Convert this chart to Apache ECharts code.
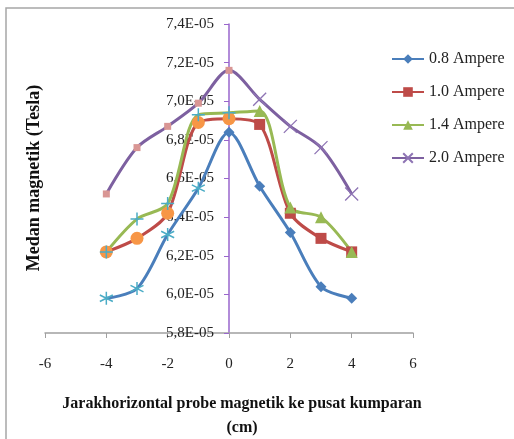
<!DOCTYPE html>
<html>
<head>
<meta charset="utf-8">
<script src="https://cdn.jsdelivr.net/npm/echarts@6/dist/echarts.min.js"></script>
<style>
  html, body { margin: 0; padding: 0; background: #fff; }
  #chart { width: 514px; height: 439px; }
</style>
</head>
<body>
<div id="chart"></div>
<script>
// Probe position relative to coil centre (cm)
const positions = [-4, -3, -2, -1, 0, 1, 2, 3, 4];
// Field strength in units of 1e-6 T
const field08A = [59.8, 60.3, 63.1, 65.5, 68.4, 65.6, 63.2, 60.4, 59.8];
const field10A = [62.2, 62.9, 64.2, 68.9, 69.1, 68.8, 64.2, 62.9, 62.2];
const field14A = [62.2, 63.9, 64.7, 69.3, 69.4, 69.5, 64.5, 64.0, 62.2];
const field20A = [65.2, 67.6, 68.7, 69.9, 71.6, 70.1, 68.7, 67.6, 65.2];
const seriesNames = ['0.8 Ampere', '1.0 Ampere', '1.4 Ampere', '2.0 Ampere'];
const xTicks = [-6, 6, 2];      // min, max, step
const yTicks = [58, 74, 2];     // min, max, step (1e-6 T)

const SERIF = '"Liberation Serif", "Times New Roman", serif';
const ASTERISK = 'path://M5,0 L5,10 M0.7,2.5 L9.3,7.5 M9.3,2.5 L0.7,7.5';
const PLUS = 'path://M5,0 L5,10 M0,5 L10,5';
const CROSS = 'path://M0,0 L10,10 M10,0 L0,10';

const GRID = { left: 45, right: 101, top: 24, bottom: 106 };
const plotWidth = 514 - GRID.left - GRID.right;
// the value axis crosses the horizontal axis at x = 0
const yAxisShift = -plotWidth * (0 - xTicks[0]) / (xTicks[1] - xTicks[0]);

function points(values, altUntil, alt) {
  return values.map((v, i) => {
    const item = { value: [positions[i], v] };
    if (positions[i] <= altUntil) Object.assign(item, alt);
    return item;
  });
}

const chart = echarts.init(document.getElementById('chart'));
chart.setOption({
  animation: false,
  grid: Object.assign({ containLabel: false, outerBoundsMode: 'none' }, GRID),
  xAxis: {
    type: 'value', min: xTicks[0], max: xTicks[1], interval: xTicks[2],
    splitLine: { show: false },
    axisLine: { onZero: false, lineStyle: { color: '#A0A0A0', width: 1.5 } },
    axisTick: { show: true, length: 5, lineStyle: { color: '#A0A0A0' } },
    axisLabel: { color: '#222', fontFamily: SERIF, fontSize: 15, margin: 24 }
  },
  yAxis: {
    type: 'value', min: yTicks[0], max: yTicks[1], interval: yTicks[2],
    position: 'left', offset: yAxisShift,
    splitLine: { show: false },
    axisLine: { onZero: false, lineStyle: { color: '#9966CC', width: 1.5 } },
    axisTick: { show: true, length: 5, lineStyle: { color: '#9966CC' } },
    axisLabel: {
      color: '#222', fontFamily: SERIF, fontSize: 15, margin: 15,
      formatter: v => (v / 10).toFixed(1).replace('.', ',') + 'E-05'
    }
  },
  legend: {
    orient: 'vertical', left: 386, top: 46, itemGap: 17,
    itemWidth: 32, itemHeight: 12,
    textStyle: { fontFamily: SERIF, fontSize: 16, color: '#222' },
    data: seriesNames
  },
  series: [
    {
      name: seriesNames[0], type: 'line', smooth: 0.3,
      symbol: 'diamond', symbolSize: 11,
      lineStyle: { color: '#4A7EBB', width: 3 },
      itemStyle: { color: '#4A7EBB' },
      data: points(field08A, -1, {
        symbol: ASTERISK, symbolSize: 13,
        itemStyle: { color: 'rgba(0,0,0,0)', borderColor: '#4BACC6', borderWidth: 1.5 }
      })
    },
    {
      name: seriesNames[1], type: 'line', smooth: 0.3,
      symbol: 'rect', symbolSize: 11,
      lineStyle: { color: '#BE4B48', width: 3 },
      itemStyle: { color: '#BE4B48' },
      data: points(field10A, 0, {
        symbol: 'circle', symbolSize: 13,
        itemStyle: { color: '#F79646' }
      })
    },
    {
      name: seriesNames[2], type: 'line', smooth: 0.3,
      symbol: 'triangle', symbolSize: 12,
      lineStyle: { color: '#98B954', width: 3 },
      itemStyle: { color: '#98B954' },
      data: points(field14A, 0, {
        symbol: PLUS, symbolSize: 13,
        itemStyle: { color: 'rgba(0,0,0,0)', borderColor: '#4BACC6', borderWidth: 1.5 }
      })
    },
    {
      name: seriesNames[3], type: 'line', smooth: 0.3,
      symbol: CROSS, symbolSize: 13,
      lineStyle: { color: '#7D60A0', width: 3 },
      itemStyle: { color: '#7D60A0', borderColor: '#8E74B4', borderWidth: 1.3 },
      data: points(field20A, 0, {
        symbol: 'rect', symbolSize: 7,
        itemStyle: { color: '#D99694', borderWidth: 0 }
      })
    }
  ],
  graphic: [
    {
      type: 'rect', silent: true,
      shape: { x: 6, y: 8, width: 520, height: 440 },
      style: { fill: 'none', stroke: '#A6A6A6', lineWidth: 1.5 }
    },
    {
      type: 'text', silent: true,
      x: 242, y: 392,
      style: {
        text: 'Jarakhorizontal probe magnetik ke pusat kumparan\n(cm)',
        font: 'bold 16px ' + SERIF, fill: '#111', align: 'center', lineHeight: 24
      }
    },
    {
      type: 'text', silent: true,
      x: 34, y: 178, rotation: Math.PI / 2,
      style: {
        text: 'Medan magnetik (Tesla)',
        font: 'bold 18px ' + SERIF, fill: '#111',
        align: 'center', verticalAlign: 'middle'
      }
    }
  ]
});
</script>
</body>
</html>
